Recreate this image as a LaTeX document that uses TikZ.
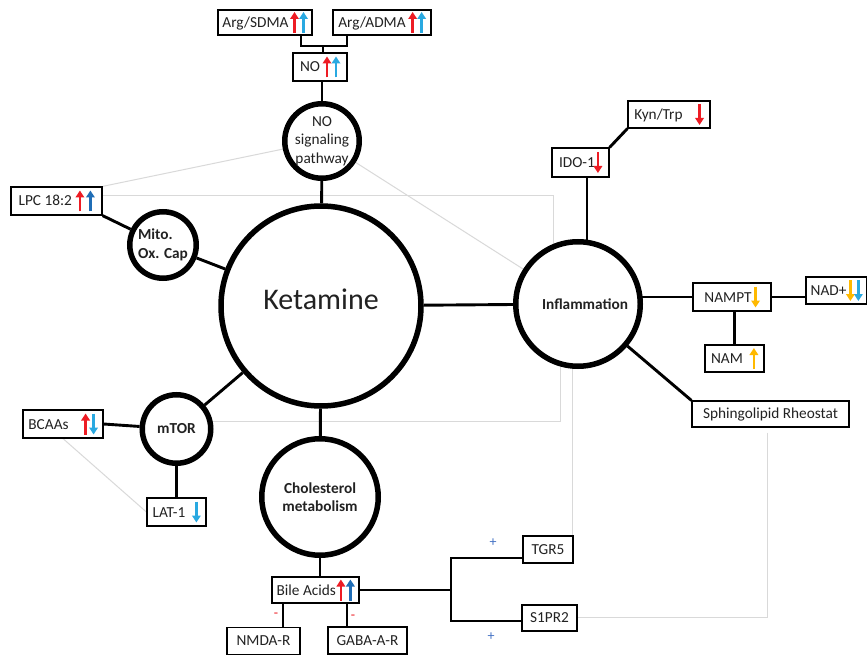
\documentclass[tikz,border=0pt]{standalone}
\usepackage{fontspec}
\setmainfont{Carlito}
\usetikzlibrary{arrows.meta,backgrounds}
\definecolor{ared}{HTML}{ED1C24}
\definecolor{ablue}{HTML}{29A9E1}
\definecolor{dblue}{HTML}{1F6DB6}
\definecolor{aorange}{HTML}{FFB900}
\definecolor{lgray}{HTML}{D9D9D9}
\definecolor{txt}{HTML}{222222}
\definecolor{pblue}{HTML}{4472C4}
\newcommand{\fs}{\fontsize{15.3pt}{18.5pt}\selectfont}
\newcommand{\upA}[1]{\tikz[baseline=0pt]{\useasboundingbox (-4pt,-5.5pt) rectangle (4pt,15.5pt);\draw[#1,line width=2.7pt,-{Triangle[length=7pt,width=8.5pt]}] (0pt,-5.5pt) -- (0pt,15.5pt);}}
\newcommand{\dnA}[1]{\tikz[baseline=0pt]{\useasboundingbox (-4pt,-5.5pt) rectangle (4pt,15.5pt);\draw[#1,line width=2.7pt,-{Triangle[length=7pt,width=8.5pt]}] (0pt,15.5pt) -- (0pt,-5.5pt);}}
\begin{document}
\begin{tikzpicture}[x=1pt,y=-1pt,
  box/.style={draw=black,line width=1.2pt,fill=white,minimum height=26pt,inner xsep=3pt,inner ysep=0pt,font=\fs,text=txt},
  bub/.style={circle,draw=black,line width=5.5pt,fill=white,inner sep=0pt,align=center,font=\fs,text=txt},
  conn/.style={line width=2.9pt,black},
  faint/.style={line width=1pt,lgray},
  sign/.style={font=\fontsize{14pt}{16pt}\selectfont,inner sep=0pt}
]
\useasboundingbox (0,0) rectangle (867,655);

% circles
\node[bub,minimum size=200pt,font=\fontsize{30pt}{34pt}\selectfont] (ket) at (321,306) {\raisebox{14pt}{Ketamine}};
\node[bub,minimum size=74.5pt] (nosig) at (322,141) {NO\\signaling\\pathway};
\node[bub,minimum size=66.5pt,font=\fs\bfseries,align=left] (mito) at (163,245) {Mito.\\Ox. Cap};
\node[bub,minimum size=124.5pt,font=\fs\bfseries] (infl) at (578,304) {\hspace*{14pt}Inflammation};
\node[bub,minimum size=68.5pt,font=\fs\bfseries] (mtor) at (176.5,429) {mTOR};
\node[bub,minimum size=116.5pt,font=\fs\bfseries] (chol) at (320,497) {Cholesterol\\metabolism};

% boxes
\node[box,minimum width=94pt,minimum height=25pt] (sdma) at (265,22.5) {Arg/SDMA\hspace{2pt}\upA{ared}\hspace{1pt}\upA{ablue}};
\node[box,minimum width=98pt,minimum height=25pt] (adma) at (382,22.5) {Arg/ADMA\hspace{3pt}\upA{ared}\hspace{1pt}\upA{ablue}};
\node[box,minimum width=54pt,minimum height=28pt] (no) at (320,67) {NO\hspace{3pt}\upA{ared}\hspace{1pt}\upA{ablue}};
\node[box,minimum width=91pt,minimum height=28pt] (lpc) at (56.5,201) {LPC 18:2\hspace{4pt}\upA{ared}\hspace{2.5pt}\upA{dblue}};
\node[box,minimum width=57pt,minimum height=29pt] (ido) at (580.5,162.5) {IDO-1\hspace{-1pt}\dnA{ared}};
\node[box,minimum width=82pt,minimum height=27pt] (kyn) at (669,114.5) {Kyn/Trp\hspace{13pt}\dnA{ared}};
\node[box,minimum width=78pt,minimum height=28pt] (nampt) at (732,297) {NAMPT\hspace{0pt}\dnA{aorange}};
\node[box,minimum width=61pt,minimum height=27pt] (nad) at (836.5,290.5) {NAD+\hspace{0pt}\dnA{aorange}\hspace{0pt}\dnA{ablue}};
\node[box,minimum width=59pt,minimum height=27pt] (nam) at (734.5,358.5) {NAM\hspace{7pt}\upA{aorange}};
\node[box,minimum width=157pt,minimum height=26pt] (sph) at (770.5,414) {Sphingolipid Rheostat};
\node[box,minimum width=80pt,minimum height=28pt] (bcaa) at (63,424) {BCAAs\hspace{13pt}\upA{ared}\hspace{0pt}\dnA{ablue}};
\node[box,minimum width=59pt,minimum height=28pt] (lat) at (176.5,512) {LAT-1\hspace{7pt}\dnA{ablue}};
\node[box,minimum width=87pt,minimum height=26pt] (bile) at (315.5,590) {Bile Acids\hspace{1pt}\upA{ared}\hspace{1.5pt}\upA{dblue}};
\node[box,minimum width=73pt,minimum height=27pt] (nmda) at (263.5,641) {NMDA-R};
\node[box,minimum width=79pt,minimum height=27pt] (gaba) at (367.5,640.5) {GABA-A-R};
\node[box,minimum width=50pt,minimum height=27pt] (tgr5) at (548,549.5) {TGR5};
\node[box,minimum width=55pt,minimum height=26pt] (s1pr2) at (549.5,618) {S1PR2};

% signs
\node[sign,text=ared] (m1) at (276,615) {-};
\node[sign,text=ared] (m2) at (353,617) {-};
\node[sign,text=pblue] (p1) at (493,543) {+};
\node[sign,text=pblue] (p2) at (491,637) {+};

% junction coordinates
\coordinate (jl) at (301,46);
\coordinate (jr) at (347,46);
\coordinate (jm) at (323,46);
\coordinate (xi) at (587,0);
\coordinate (xn) at (283,0);
\coordinate (xg) at (347,0);
\coordinate (st) at (451,558);
\coordinate (sb) at (451,621);
\coordinate (g1) at (553,196);
\coordinate (g2) at (560,421);
\coordinate (g3) at (572,0);
\coordinate (g4) at (767,617);

\begin{pgfonlayer}{background}
\fill[white] (0,0) rectangle (867,655);
% faint links
\draw[faint] (lpc.north east) -- (nosig);
\draw[faint] (lpc.east |- g1) -- (g1) -- (g1 |- infl);
\draw[faint] (nosig) -- (infl);
\draw[faint] (mtor |- g2) -- (g2) -- (g2 |- infl);
\draw[faint] (infl -| g3) -- (tgr5.north -| g3);
\draw[faint,shorten <=5pt] (sph.south -| g4) -- (g4) -- (s1pr2.east |- g4);
\draw[faint] (bcaa.south) -- (lat.west);
% main connectors
\draw[conn] (jl |- sdma.south) -- (jl) -- (jr) -- (jr |- adma.south);
\draw[conn] (jm) -- (jm |- no.north);
\draw[conn] (nosig.north |- no.south) -- (nosig);
\draw[conn] (nosig) -- (ket);
\draw[conn] (lpc.south east) -- (mito);
\draw[conn] (mito) -- (ket);
\draw[conn] (ket) -- (mtor);
\draw[conn] (bcaa.east) -- (mtor);
\draw[conn] (mtor) -- (lat);
\draw[conn] (ket) -- (chol);
\draw[conn] (chol.south) -- (chol.south |- bile.north);
\draw[conn] (bile.south -| xn) -- (nmda.north -| xn);
\draw[conn] (bile.south -| xg) -- (gaba.north -| xg);
\draw[conn] (bile.east) -- (bile.east -| st);
\draw[conn] (tgr5.west |- st) -- (st) -- (sb) -- (s1pr2.west |- sb);
\draw[conn] (ket) -- (infl);
\draw[conn] (ido.south -| xi) -- (infl -| xi);
\draw[conn] (kyn.south west) -- (ido.north east);
\draw[conn] (nampt.west) -- (nampt.west -| infl);
\draw[conn] (nampt.east) -- (nampt.east -| nad.west);
\draw[conn] (nam.north) -- (nam.north |- nampt.south);
\draw[conn] (infl) -- (sph.north west);
\end{pgfonlayer}
\end{tikzpicture}
\end{document}
